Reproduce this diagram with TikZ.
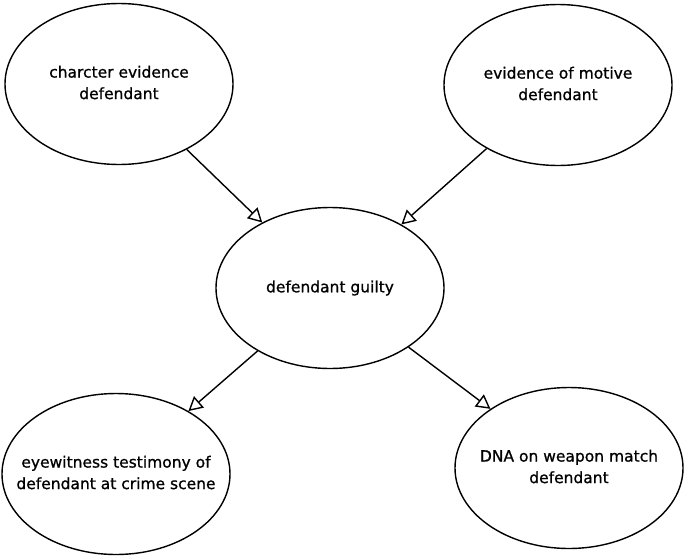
\documentclass[tikz,border=0pt]{standalone}
\usepackage{fontspec}
\setmainfont{DejaVu Sans}[FakeBold=0.9]
\usetikzlibrary{shapes.geometric,arrows.meta}
\newcommand{\elltext}[1]{\makebox[0pt]{\begin{tabular}{@{}c@{}}#1\end{tabular}}}
\begin{document}
\begin{tikzpicture}[x=1pt,y=-1pt,
  ell/.style={draw, ellipse, line width=1.4pt, minimum width=228pt, minimum height=161pt, inner sep=0pt, font=\fontsize{15.5}{21.5}\selectfont},
  conn/.style={line width=1.4pt, -{Triangle[open, length=14pt, width=15pt, line width=1.4pt]}}]
\useasboundingbox (0,0) rectangle (685,557);
\node[ell] (char) at (119,84) {\elltext{charcter evidence\\defendant}};
\node[ell] (motive) at (558,85) {\elltext{evidence of motive\\defendant}};
\node[ell] (guilty) at (330,288) {\elltext{defendant guilty}};
\node[ell] (eye) at (116,474) {\elltext{eyewitness testimony of\\defendant at crime scene}};
\node[ell] (dna) at (569,468) {\elltext{DNA on weapon match\\defendant}};
\draw[conn] (char) -- (guilty);
\draw[conn] (motive) -- (guilty);
\draw[conn] (guilty) -- (eye);
\draw[conn] (guilty) -- (dna);
\end{tikzpicture}
\end{document}
